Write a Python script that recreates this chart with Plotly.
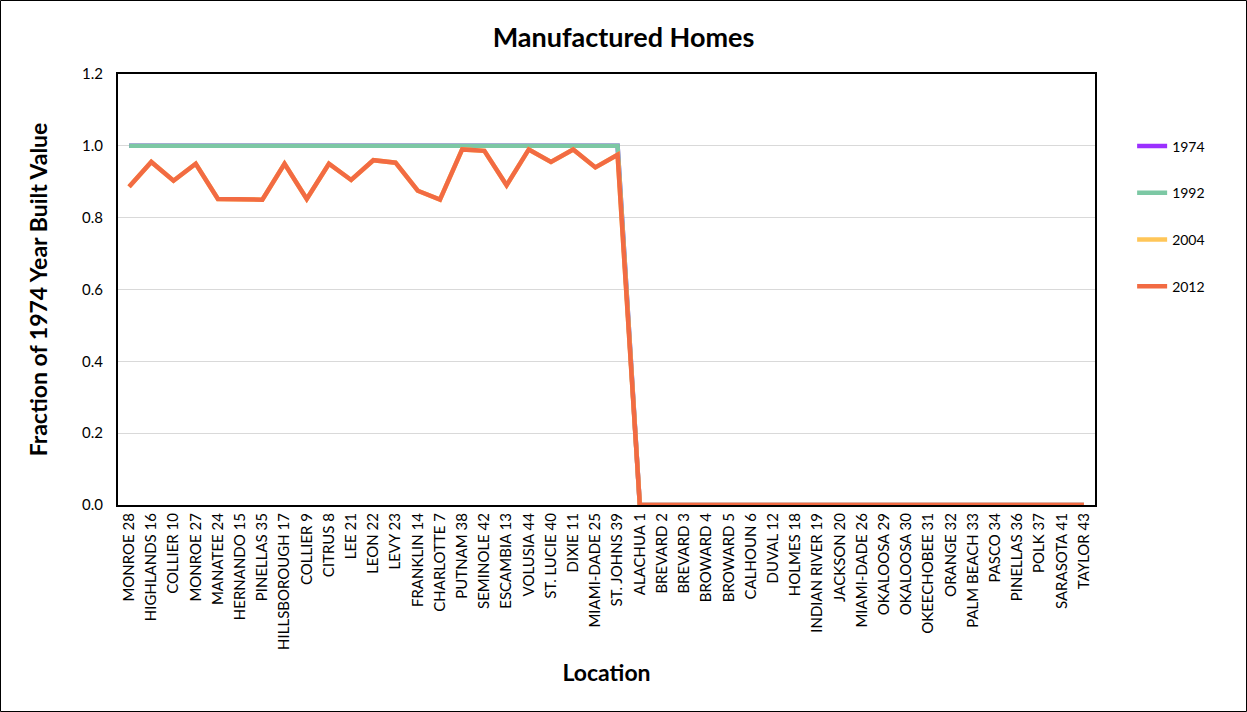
import plotly.graph_objects as go

# locations along the x axis
locations = [
    "MONROE 28", "HIGHLANDS 16", "COLLIER 10", "MONROE 27", "MANATEE 24",
    "HERNANDO 15", "PINELLAS 35", "HILLSBOROUGH 17", "COLLIER 9", "CITRUS 8",
    "LEE 21", "LEON 22", "LEVY 23", "FRANKLIN 14", "CHARLOTTE 7", "PUTNAM 38",
    "SEMINOLE 42", "ESCAMBIA 13", "VOLUSIA 44", "ST. LUCIE 40", "DIXIE 11",
    "MIAMI-DADE 25", "ST. JOHNS 39", "ALACHUA 1", "BREVARD 2", "BREVARD 3",
    "BROWARD 4", "BROWARD 5", "CALHOUN 6", "DUVAL 12", "HOLMES 18",
    "INDIAN RIVER 19", "JACKSON 20", "MIAMI-DADE 26", "OKALOOSA 29",
    "OKALOOSA 30", "OKEECHOBEE 31", "ORANGE 32", "PALM BEACH 33", "PASCO 34",
    "PINELLAS 36", "POLK 37", "SARASOTA 41", "TAYLOR 43",
]

zeros = [0.0] * 21

v1974 = [1.0] * 23 + zeros
v1992 = [1.0] * 23 + zeros
v2012 = [0.886, 0.955, 0.903, 0.950, 0.852, 0.852, 0.850, 0.950, 0.852, 0.950,
         0.905, 0.960, 0.953, 0.875, 0.850, 0.990, 0.986, 0.890, 0.990, 0.955,
         0.990, 0.940, 0.975] + zeros
v2004 = list(v2012)

series = [
    ("1974", v1974, "#9B30FF"),
    ("1992", v1992, "#7CC8A4"),
    ("2004", v2004, "#FFC658"),
    ("2012", v2012, "#F26B43"),
]

FONT = "Lato, Calibri, sans-serif"

fig = go.Figure()
for name, vals, col in series:
    fig.add_trace(go.Scatter(
        x=locations, y=vals, name=name, mode="lines",
        line=dict(color=col, width=4.5),
        legendgroup=name,
    ))

fig.update_layout(
    width=1247, height=712,
    margin=dict(l=118, r=152, t=74, b=207),
    paper_bgcolor="white", plot_bgcolor="white",
    font=dict(family=FONT, size=14, color="black"),
    title=dict(text="<b>Manufactured Homes</b>", x=0.5, xanchor="center",
               y=0.947, yanchor="middle", font=dict(size=27)),
    legend=dict(x=1.038, xanchor="left", y=0.869, yanchor="top",
                traceorder="grouped", tracegroupgap=25.5,
                font=dict(size=14)),
    showlegend=True,
)

fig.update_xaxes(
    title=dict(text="<b>Location</b>", font=dict(size=23), standoff=16),
    tickangle=-90, tickfont=dict(size=15),
    range=[-0.5, len(locations) - 0.5],
    showline=True, linecolor="black", linewidth=2, mirror=True,
    showgrid=False, ticks="",
)
fig.update_yaxes(
    title=dict(text="<b>Fraction of 1974 Year Built Value</b>", font=dict(size=23), standoff=28),
    range=[0, 1.2], dtick=0.2, tickformat=".1f", tickfont=dict(size=15),
    ticklabelstandoff=10,
    showline=True, linecolor="black", linewidth=2, mirror=True,
    showgrid=True, gridcolor="#D9D9D9", gridwidth=1,
    zeroline=False, ticks="",
)

# outer frame around the whole chart
fig.add_shape(type="rect", xref="paper", yref="paper",
              x0=-117.5 / 977, x1=1128.5 / 977,
              y0=-206.5 / 431, y1=1 + 73.5 / 431,
              line=dict(color="black", width=1), fillcolor="rgba(0,0,0,0)")

fig.write_html("out.html", config={"displayModeBar": False},
               post_script="document.body.style.margin='0';document.body.style.padding='0';")
